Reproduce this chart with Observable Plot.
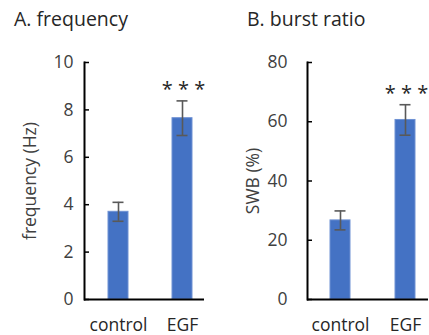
<!DOCTYPE html>
<html><head><meta charset="utf-8">
<script src="https://cdn.jsdelivr.net/npm/d3@7"></script>
<script src="https://cdn.jsdelivr.net/npm/@observablehq/plot@0.6"></script>
<style>
body{margin:0;background:#fff;font-family:"Open Sans",sans-serif;}
#wrap{position:relative;width:429px;height:335px;overflow:hidden;}
.panel{position:absolute;top:0;}
.title{height:40px;font-size:19.5px;color:#262626;padding-left:14px;line-height:1;padding-top:9px;box-sizing:border-box;}
</style></head>
<body><div id="wrap"><div class="panel" id="pa" style="left:0;width:215px"></div><div class="panel" id="pb" style="left:215px;width:214px"></div></div>
<script>
const groups = ["control", "EGF"];
const freqMean = [3.7, 7.65];
const freqErr = [0.4, 0.73];
const burstMean = [26.7, 60.6];
const burstErr = [3.2, 5.15];
const stars = ["", "* * *"];
const freqTicks = [0, 2, 4, 6, 8, 10];
const burstTicks = [0, 20, 40, 60, 80];

function panel(el, title, titleLeft, means, errs, ticks, ymax, ylabel, opts) {
  const rows = groups.map((g, i) => ({g, v: means[i], lo: means[i] - errs[i], hi: means[i] + errs[i], s: stars[i]}));
  const t = document.createElement("div");
  t.className = "title"; t.style.paddingLeft = titleLeft + "px"; t.textContent = title;
  el.appendChild(t);
  const p = Plot.plot({
    width: opts.width, height: 295,
    marginLeft: opts.ml, marginRight: opts.mr, marginTop: 22, marginBottom: 36,
    style: {fontFamily: "Open Sans, sans-serif", fontSize: "17.5px", color: "#404040", background: "transparent"},
    x: {domain: groups, range: opts.xr, paddingInner: opts.pi, paddingOuter: opts.po, align: 0.5},
    y: {domain: [0, ymax]},
    marks: [
      Plot.barY(rows, {x: "g", y: "v", fill: "#4472C4", stroke: "#6f91d3", strokeWidth: 1}),
      Plot.ruleX(rows, {x: "g", y1: "lo", y2: "hi", stroke: "#595959", strokeWidth: 1.6}),
      Plot.tickY(rows, {x: "g", y: "lo", stroke: "#595959", strokeWidth: 1.6, insetLeft: 4.5, insetRight: 4.5}),
      Plot.tickY(rows, {x: "g", y: "hi", stroke: "#595959", strokeWidth: 1.6, insetLeft: 4.5, insetRight: 4.5}),
      Plot.text(rows, {x: "g", y: "hi", text: "s", dy: -11, fontSize: 20, fill: "#262626", dx: 1}),
      Plot.axisY({ticks, tickSize: 5, dx: 5, text: null, stroke: "#000", strokeWidth: 1.5, label: null}),
      Plot.axisY({ticks, tickSize: 0, tickPadding: opts.tp, fill: "#404040", fontSize: 17.5, label: ylabel, labelAnchor: "center", labelOffset: opts.lo, labelArrow: "none"}),
      Plot.axisX({tickSize: 0, tickPadding: 19, fontSize: 17.5, fill: "#262626", label: null}),
      Plot.ruleY([0], {stroke: "#000", strokeWidth: 2}),
      Plot.frame({anchor: "left", stroke: "#000", strokeWidth: 2})
    ]
  });
  el.appendChild(p);
}

panel(document.getElementById("pa"), "A. frequency", 14, freqMean, freqErr, freqTicks, 10, "frequency (Hz)",
  {width: 215, ml: 84, mr: 11, xr: [84, 215], pi: 0.692, po: 0.354, tp: 11, lo: 61});
panel(document.getElementById("pb"), "B. burst ratio", 32, burstMean, burstErr, burstTicks, 80, "SWB (%)",
  {width: 214, ml: 92, mr: 1, xr: [91.5, 222.5], pi: 0.697, po: 0.341, tp: 20, lo: 61});
</script></body></html>
